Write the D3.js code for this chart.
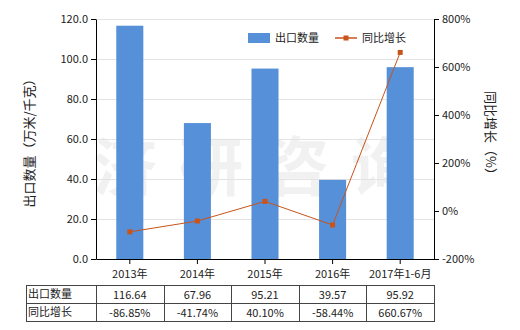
<!DOCTYPE html>
<html>
<head>
<meta charset="utf-8">
<script src="https://cdn.jsdelivr.net/npm/d3@7"></script>
<style>
  body { margin: 0; background: #fff; }
  text { font-family: "Microsoft YaHei", "Noto Sans CJK SC", sans-serif; }
</style>
</head>
<body>
<div id="chart"></div>
<script>
const categories = ["2013年", "2014年", "2015年", "2016年", "2017年1-6月"];
const exportQty = [116.64, 67.96, 95.21, 39.57, 95.92];
const yoyGrowth = [-86.85, -41.74, 40.10, -58.44, 660.67];
const qtyLabels = ["116.64", "67.96", "95.21", "39.57", "95.92"];
const growthLabels = ["-86.85%", "-41.74%", "40.10%", "-58.44%", "660.67%"];
const leftTicks = [0, 20, 40, 60, 80, 100, 120];
const rightTicks = [-200, 0, 200, 400, 600, 800];

const BAR_COLOR = "#5590d9";
const LINE_COLOR = "#c8541b";
const TEXT_COLOR = "#222";

let width = 520, height = 330;
let svg = d3.select("#chart").append("svg")
  .attr("width", width).attr("height", height);

let x = d3.scaleBand().domain(categories).range([96, 434]).paddingInner(0.6).paddingOuter(0.3);
let xc = d3.scaleBand().domain(categories).range([96, 434]);
let yL = d3.scaleLinear().domain([0, 120]).range([259, 19]);
let yR = d3.scaleLinear().domain([-200, 800]).range([259, 19]);

// watermark
svg.append("text")
  .attr("x", 265).attr("y", 190)
  .attr("text-anchor", "middle")
  .attr("font-size", 64).attr("font-weight", "bold")
  .attr("letter-spacing", 22)
  .attr("fill", "#d8d8d8").attr("opacity", 0.35)
  .text("济研咨询");

// gridlines
svg.append("g").selectAll("line").data(leftTicks.slice(1)).enter().append("line")
  .attr("x1", 96).attr("x2", 434)
  .attr("y1", d => yL(d) + 0.5).attr("y2", d => yL(d) + 0.5)
  .attr("stroke", "#e3e3e3");

// bars
svg.append("g").selectAll("rect").data(exportQty).enter().append("rect")
  .attr("x", (d, i) => x(categories[i]))
  .attr("width", x.bandwidth())
  .attr("y", d => yL(d))
  .attr("height", d => yL(0) - yL(d))
  .attr("fill", BAR_COLOR);

// axes
let axL = svg.append("g").attr("transform", "translate(96,0)")
  .call(d3.axisLeft(yL).tickValues(leftTicks).tickFormat(d3.format(".1f")).tickSize(5).tickSizeOuter(0));
let axR = svg.append("g").attr("transform", "translate(434,0)")
  .call(d3.axisRight(yR).tickValues(rightTicks).tickFormat(d => d + "%").tickSize(5).tickSizeOuter(0));
let axB = svg.append("g").attr("transform", "translate(0,259)")
  .call(d3.axisBottom(xc).tickSize(5).tickSizeOuter(0).tickPadding(6));
[axL, axR, axB].forEach(a => {
  a.selectAll("path, line").attr("stroke", "#000");
  a.selectAll("text").attr("font-size", 11).attr("fill", TEXT_COLOR)
    .style("font-family", "'Microsoft YaHei', 'Noto Sans CJK SC', sans-serif");
});

// line
let line = d3.line()
  .x((d, i) => xc(categories[i]) + xc.bandwidth() / 2)
  .y(d => yR(d));
svg.append("path").datum(yoyGrowth)
  .attr("d", line).attr("fill", "none")
  .attr("stroke", LINE_COLOR).attr("stroke-width", 1);
svg.append("g").selectAll("rect").data(yoyGrowth).enter().append("rect")
  .attr("x", (d, i) => xc(categories[i]) + xc.bandwidth() / 2 - 2.5)
  .attr("y", d => yR(d) - 2.5)
  .attr("width", 5).attr("height", 5)
  .attr("fill", LINE_COLOR);

// axis titles
svg.append("text")
  .attr("transform", "translate(34,140) rotate(-90)")
  .attr("text-anchor", "middle").attr("font-size", 13).attr("fill", TEXT_COLOR)
  .text("出口数量（万米/千克）");
svg.append("text")
  .attr("transform", "translate(486,136) rotate(90)")
  .attr("text-anchor", "middle").attr("font-size", 13).attr("fill", TEXT_COLOR)
  .text("同比增长（%）");

// legend
let lg = svg.append("g");
lg.append("rect").attr("x", 248).attr("y", 33).attr("width", 22).attr("height", 10).attr("fill", BAR_COLOR);
lg.append("text").attr("x", 275).attr("y", 42).attr("font-size", 11).attr("fill", TEXT_COLOR).text("出口数量");
lg.append("line").attr("x1", 335).attr("x2", 357).attr("y1", 38).attr("y2", 38)
  .attr("stroke", LINE_COLOR).attr("stroke-width", 1.5);
lg.append("rect").attr("x", 343.5).attr("y", 35.5).attr("width", 5).attr("height", 5).attr("fill", LINE_COLOR);
lg.append("text").attr("x", 362).attr("y", 42).attr("font-size", 11).attr("fill", TEXT_COLOR).text("同比增长");

// data table
let rowNames = ["出口数量", "同比增长"];
let rowVals = [qtyLabels, growthLabels];
let tTop = 285, rowH = 18, tLeft = 26;
let colEdges = [tLeft].concat(categories.map(c => xc(c))).concat([434]);
let tbl = svg.append("g");
tbl.append("g").selectAll("line").data([0, 1, 2]).enter().append("line")
  .attr("x1", tLeft).attr("x2", 434)
  .attr("y1", d => tTop + d * rowH + 0.5).attr("y2", d => tTop + d * rowH + 0.5)
  .attr("stroke", "#444");
tbl.append("g").selectAll("line").data(colEdges).enter().append("line")
  .attr("x1", d => Math.round(d) + 0.5).attr("x2", d => Math.round(d) + 0.5)
  .attr("y1", tTop).attr("y2", tTop + 2 * rowH + 1)
  .attr("stroke", "#444");
rowNames.forEach((name, r) => {
  tbl.append("text").attr("x", tLeft + 2).attr("y", tTop + r * rowH + 13)
    .attr("font-size", 11).attr("fill", TEXT_COLOR).text(name);
  tbl.append("g").selectAll("text").data(rowVals[r]).enter().append("text")
    .attr("x", (d, i) => xc(categories[i]) + xc.bandwidth() / 2)
    .attr("y", tTop + r * rowH + 14)
    .attr("text-anchor", "middle").attr("font-size", 11).attr("fill", TEXT_COLOR)
    .text(d => d);
});
</script>
</body>
</html>
